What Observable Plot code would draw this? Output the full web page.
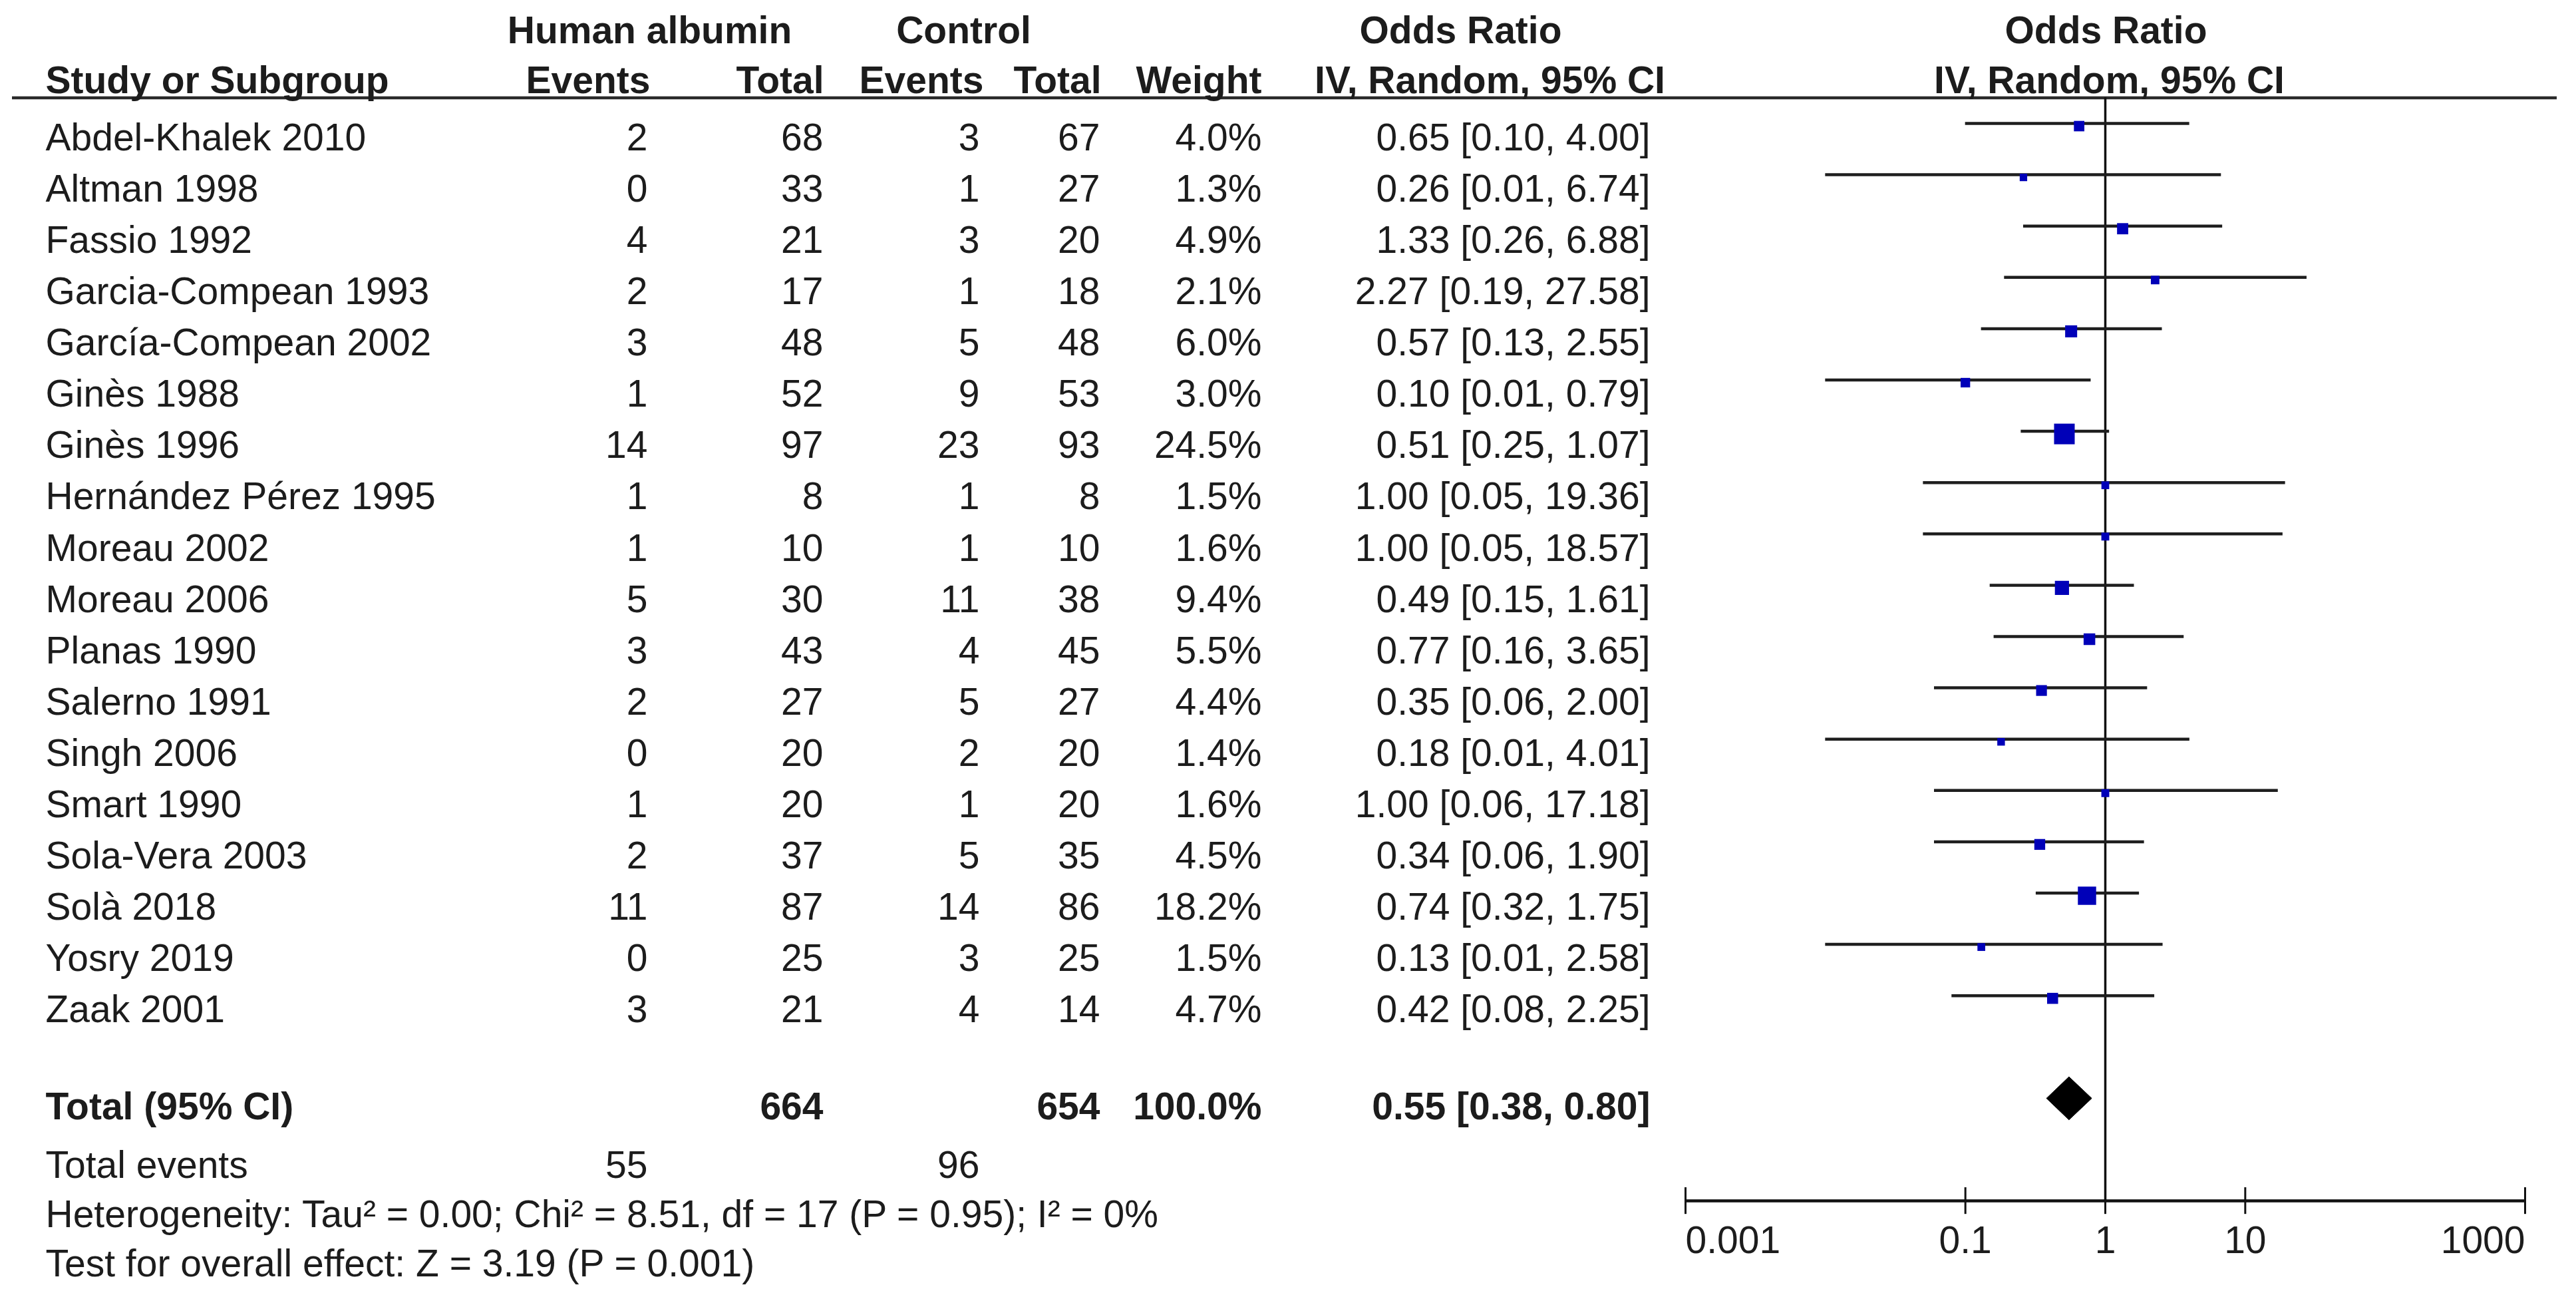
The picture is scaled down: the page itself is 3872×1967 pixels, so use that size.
<!DOCTYPE html>
<html>
<head>
<meta charset="utf-8">
<script src="https://cdn.jsdelivr.net/npm/d3@7"></script>
<script src="https://cdn.jsdelivr.net/npm/@observablehq/plot@0.6"></script>
<style>
  html, body { margin: 0; padding: 0; background: #ffffff; }
  #chart { width: 3872px; height: 1967px; }
</style>
</head>
<body>
<div id="chart"></div>
<script>
// ---- data ----
const studies = ["Abdel-Khalek 2010","Altman 1998","Fassio 1992","Garcia-Compean 1993","García-Compean 2002","Ginès 1988","Ginès 1996","Hernández Pérez 1995","Moreau 2002","Moreau 2006","Planas 1990","Salerno 1991","Singh 2006","Smart 1990","Sola-Vera 2003","Solà 2018","Yosry 2019","Zaak 2001"];
const haEvents   = [2,0,4,2,3,1,14,1,1,5,3,2,0,1,2,11,0,3];
const haTotal    = [68,33,21,17,48,52,97,8,10,30,43,27,20,20,37,87,25,21];
const ctrlEvents = [3,1,3,1,5,9,23,1,1,11,4,5,2,1,5,14,3,4];
const ctrlTotal  = [67,27,20,18,48,53,93,8,10,38,45,27,20,20,35,86,25,14];
const weights    = [4.0,1.3,4.9,2.1,6.0,3.0,24.5,1.5,1.6,9.4,5.5,4.4,1.4,1.6,4.5,18.2,1.5,4.7];
const oddsRatio  = [0.65,0.26,1.33,2.27,0.57,0.10,0.51,1.00,1.00,0.49,0.77,0.35,0.18,1.00,0.34,0.74,0.13,0.42];
const ciLow      = [0.10,0.01,0.26,0.19,0.13,0.01,0.25,0.05,0.05,0.15,0.16,0.06,0.01,0.06,0.06,0.32,0.01,0.08];
const ciHigh     = [4.00,6.74,6.88,27.58,2.55,0.79,1.07,19.36,18.57,1.61,3.65,2.00,4.01,17.18,1.90,1.75,2.58,2.25];

const totalHA = 664, totalCtrl = 654, totalWeight = "100.0%";
const totalOR = 0.55, totalLow = 0.38, totalHigh = 0.80;
const totalEventsHA = 55, totalEventsCtrl = 96;
const heterogeneityText = "Heterogeneity: Tau² = 0.00; Chi² = 8.51, df = 17 (P = 0.95); I² = 0%";
const overallText = "Test for overall effect: Z = 3.19 (P = 0.001)";
const axisTicks = [0.001, 0.1, 1, 10, 1000];
const axisTickLabels = ["0.001", "0.1", "1", "10", "1000"];

// ---- table built from the arrays ----
const f2 = v => v.toFixed(2);
const rows = studies.map((s, i) => ({
  i, study: s,
  haE: String(haEvents[i]), haT: String(haTotal[i]),
  cE: String(ctrlEvents[i]), cT: String(ctrlTotal[i]),
  w: weights[i], wTxt: weights[i].toFixed(1) + "%",
  or: oddsRatio[i], lo: ciLow[i], hi: ciHigh[i],
  orTxt: `${f2(oddsRatio[i])} [${f2(ciLow[i])}, ${f2(ciHigh[i])}]`
}));
const ticks = axisTicks.map((t, k) => ({t, label: axisTickLabels[k], k}));

// ---- layout constants (pixels / row units) ----
const FONT = "'Liberation Sans', Arial, Helvetica, sans-serif";
const FS = 57;
const TXT = 0.285;           // text offset below a row's line (row units)
const HDR1 = -1.80, HDR2 = -0.83, HLINE = -0.5;
const TOT = 19, TOT_TXT = 19.17, EVT_TXT = 20.31, HET_TXT = 21.27, TEST_TXT = 22.23;
const AXIS = 21, TICK_LBL = 21.78;
const col = {name: 68, haE: 973, haT: 1237, cE: 1472, cT: 1653, w: 1896, or: 2480};
const ink = "#1c1c1c";

const diamond = [
  {x: totalLow, y: TOT}, {x: totalOR, y: TOT - 0.42},
  {x: totalHigh, y: TOT}, {x: totalOR, y: TOT + 0.42}, {x: totalLow, y: TOT}
];

const txt = (data, opts) => Plot.text(data, {frameAnchor: "left", fontSize: FS, fill: ink, ...opts});
const one = [0];

const chart = Plot.plot({
  width: 3872,
  height: 1967,
  margin: 0,
  style: {background: "#ffffff", color: ink, fontFamily: FONT, fontSize: FS + "px"},
  x: {type: "log", domain: [0.001, 1000], range: [2533, 3795], axis: null},
  y: {type: "linear", domain: [0, 17], range: [185, 185 + 17 * 77.1], axis: null},
  r: {type: "sqrt", domain: [0, 24.5], range: [3, 17.5]},
  marks: [
    // header rule
    Plot.ruleY([HLINE], {stroke: "#2a2a2a", strokeWidth: 4.5, insetLeft: 18, insetRight: 29}),
    // line of no effect
    Plot.ruleX([1], {y1: HLINE, y2: AXIS, stroke: "#111", strokeWidth: 3.5}),
    // confidence intervals
    Plot.ruleY(rows, {y: "i", x1: "lo", x2: "hi", stroke: "#1e1e1e", strokeWidth: 4.5}),
    // study estimates
    Plot.dot(rows, {x: "or", y: "i", r: "w", symbol: "square", fill: "#0000b8", stroke: "none", dy: 4}),
    // pooled diamond
    Plot.line(diamond, {x: "x", y: "y", fill: "#000", stroke: "#000", strokeWidth: 1}),
    // bottom axis
    Plot.ruleY([AXIS], {x1: 0.001, x2: 1000, stroke: "#111", strokeWidth: 4.5}),
    Plot.ruleX(ticks, {x: "t", y1: AXIS - 0.26, y2: AXIS + 0.26, stroke: "#111", strokeWidth: 3}),
    Plot.text(ticks.filter(d => d.k === 0), {x: "t", y: TICK_LBL, text: "label", textAnchor: "start", fontSize: FS, fill: ink}),
    Plot.text(ticks.filter(d => d.k > 0 && d.k < ticks.length - 1), {x: "t", y: TICK_LBL, text: "label", textAnchor: "middle", fontSize: FS, fill: ink}),
    Plot.text(ticks.filter(d => d.k === ticks.length - 1), {x: "t", y: TICK_LBL, text: "label", textAnchor: "end", fontSize: FS, fill: ink}),

    // header row 1
    txt(one, {y: HDR1, text: () => "Human albumin", textAnchor: "middle", dx: 976, fontWeight: "bold"}),
    txt(one, {y: HDR1, text: () => "Control", textAnchor: "middle", dx: 1448, fontWeight: "bold"}),
    txt(one, {y: HDR1, text: () => "Odds Ratio", textAnchor: "middle", dx: 2195, fontWeight: "bold"}),
    txt(one, {y: HDR1, text: () => "Odds Ratio", textAnchor: "middle", dx: 3165, fontWeight: "bold"}),
    // header row 2
    txt(one, {y: HDR2, text: () => "Study or Subgroup", textAnchor: "start", dx: col.name, fontWeight: "bold"}),
    txt(one, {y: HDR2, text: () => "Events", textAnchor: "end", dx: 977, fontWeight: "bold"}),
    txt(one, {y: HDR2, text: () => "Total", textAnchor: "end", dx: 1238, fontWeight: "bold"}),
    txt(one, {y: HDR2, text: () => "Events", textAnchor: "end", dx: 1478, fontWeight: "bold"}),
    txt(one, {y: HDR2, text: () => "Total", textAnchor: "end", dx: 1655, fontWeight: "bold"}),
    txt(one, {y: HDR2, text: () => "Weight", textAnchor: "end", dx: 1896, fontWeight: "bold"}),
    txt(one, {y: HDR2, text: () => "IV, Random, 95% CI", textAnchor: "middle", dx: 2239, fontWeight: "bold"}),
    txt(one, {y: HDR2, text: () => "IV, Random, 95% CI", textAnchor: "middle", dx: 3170, fontWeight: "bold"}),

    // study rows
    txt(rows, {y: d => d.i + TXT, text: "study", textAnchor: "start", dx: col.name}),
    txt(rows, {y: d => d.i + TXT, text: "haE", textAnchor: "end", dx: col.haE}),
    txt(rows, {y: d => d.i + TXT, text: "haT", textAnchor: "end", dx: col.haT}),
    txt(rows, {y: d => d.i + TXT, text: "cE", textAnchor: "end", dx: col.cE}),
    txt(rows, {y: d => d.i + TXT, text: "cT", textAnchor: "end", dx: col.cT}),
    txt(rows, {y: d => d.i + TXT, text: "wTxt", textAnchor: "end", dx: col.w}),
    txt(rows, {y: d => d.i + TXT, text: "orTxt", textAnchor: "end", dx: col.or}),

    // total row
    txt(one, {y: TOT_TXT, text: () => "Total (95% CI)", textAnchor: "start", dx: col.name, fontWeight: "bold"}),
    txt(one, {y: TOT_TXT, text: () => String(totalHA), textAnchor: "end", dx: col.haT, fontWeight: "bold"}),
    txt(one, {y: TOT_TXT, text: () => String(totalCtrl), textAnchor: "end", dx: col.cT, fontWeight: "bold"}),
    txt(one, {y: TOT_TXT, text: () => totalWeight, textAnchor: "end", dx: col.w, fontWeight: "bold"}),
    txt(one, {y: TOT_TXT, text: () => `${f2(totalOR)} [${f2(totalLow)}, ${f2(totalHigh)}]`, textAnchor: "end", dx: col.or, fontWeight: "bold"}),

    // total events and statistics
    txt(one, {y: EVT_TXT, text: () => "Total events", textAnchor: "start", dx: col.name}),
    txt(one, {y: EVT_TXT, text: () => String(totalEventsHA), textAnchor: "end", dx: col.haE}),
    txt(one, {y: EVT_TXT, text: () => String(totalEventsCtrl), textAnchor: "end", dx: col.cE}),
    txt(one, {y: HET_TXT, text: () => heterogeneityText, textAnchor: "start", dx: col.name}),
    txt(one, {y: TEST_TXT, text: () => overallText, textAnchor: "start", dx: col.name})
  ]
});
document.getElementById("chart").appendChild(chart);
</script>
</body>
</html>
